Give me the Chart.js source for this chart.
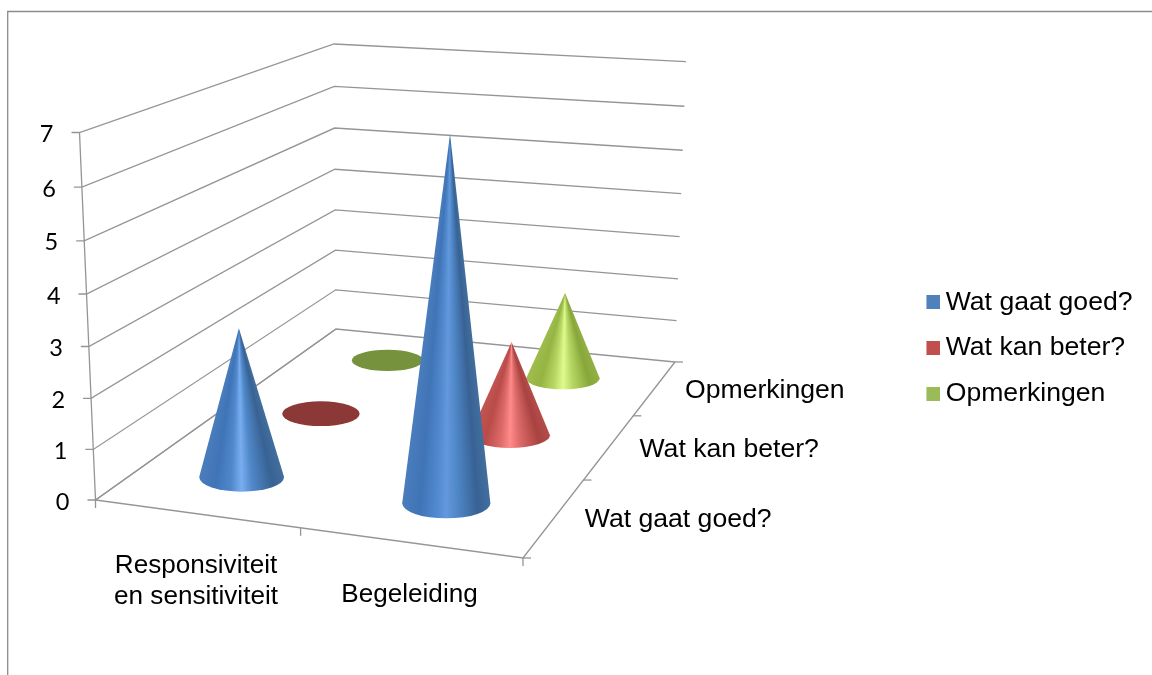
<!DOCTYPE html>
<html>
<head>
<meta charset="utf-8">
<title>Wat gaat goed? Wat kan beter?</title>
<script src="https://cdn.jsdelivr.net/npm/chart.js@4/dist/chart.umd.min.js"></script>
<style>
  html, body { margin: 0; padding: 0; background: #fff; }
  canvas { display: block; }
</style>
</head>
<body>
<canvas id="chart" width="1152" height="675"></canvas>
<script>
// Chart values
const categories = [['Responsiviteit', 'en sensitiviteit'], 'Begeleiding'];
const seriesNames = ['Wat gaat goed?', 'Wat kan beter?', 'Opmerkingen'];
const watGaatGoed = [3, 7];
const watKanBeter = [0, 2];
const opmerkingen = [0, 2];
const valueTicksMax = 7;

// Series colours: legend swatch, flat disc for zero values, cone shading (left to right)
const swatchColors = ['#4F81BD', '#C0504D', '#9BBB59'];
const discColors = ['#3A6296', '#8C3836', '#76923C'];
const coneShades = [
  [[0, '#4a7dbd'], [0.2, '#3f74b6'], [0.38, '#5088cd'], [0.5, '#78aef0'], [0.62, '#5088c9'], [0.85, '#386294'], [1, '#426f9e']],
  [[0, '#c25452'], [0.2, '#b94b49'], [0.38, '#dc6a68'], [0.5, '#ff8b8b'], [0.62, '#dc6a68'], [0.85, '#a84341'], [1, '#b44c4a']],
  [[0, '#9ebd4c'], [0.2, '#95b443'], [0.38, '#b8d865'], [0.5, '#dffb8e'], [0.62, '#b8d865'], [0.85, '#88a73b'], [1, '#93b044']]
];
// Softer highlight on cones taller than half of the value axis
const tallHighlights = ['#6398dc', '#f07a7a', '#cdea7c'];

// Corners of the 3D plot box on the canvas: front-left, front-right, back-right, back-left
const floorCorners = [[95.5, 500], [523, 558], [675, 362], [336, 329]];
const ceilingCorners = [[79.5, 132.5], [530, 162], [686, 61.7], [334, 44]];
const heightPerspective = -0.0434;

const GRID_COLOR = '#959595';
const FRAME_COLOR = '#8c8c8c';
const TEXT_FONT = 'Liberation Sans, Arial, sans-serif';
const TEXT_SIZE = 26.6;

// Unit square to quadrilateral projective map
function makeHomography(q) {
  const [p0, p1, p2, p3] = q;
  const dx1 = p1[0] - p2[0], dx2 = p3[0] - p2[0], sx = p0[0] - p1[0] + p2[0] - p3[0];
  const dy1 = p1[1] - p2[1], dy2 = p3[1] - p2[1], sy = p0[1] - p1[1] + p2[1] - p3[1];
  const det = dx1 * dy2 - dx2 * dy1;
  const g = (sx * dy2 - dx2 * sy) / det;
  const h = (dx1 * sy - sx * dy1) / det;
  const a = p1[0] - p0[0] + g * p1[0], b = p3[0] - p0[0] + h * p3[0], c = p0[0];
  const d = p1[1] - p0[1] + g * p1[1], e = p3[1] - p0[1] + h * p3[1], f = p0[1];
  return (u, v) => {
    const w = 1 + g * u + h * v;
    return { x: (a * u + b * v + c) / w, y: (d * u + e * v + f) / w, w };
  };
}
const floorMap = makeHomography(floorCorners);
const ceilingMap = makeHomography(ceilingCorners);

// u: across categories, v: depth, f: share of the value axis, all 0..1
function project(u, v, f) {
  const lo = floorMap(u, v), hi = ceilingMap(u, v);
  const t = f * (1 + heightPerspective) / (1 + heightPerspective * f);
  return { x: lo.x + (hi.x - lo.x) * t, y: lo.y + (hi.y - lo.y) * t, w: lo.w };
}

const shareX = (s, px) => (px - s.left) / s.width;
const shareY = (s, px) => (s.bottom - px) / s.height;

// Bar controller whose elements are painted as cones on the projected floor
class ConeController extends Chart.BarController {
  draw() {
    const { ctx, scales } = this.chart;
    const idx = this.index;
    const v = shareX(scales.depth, scales.depth.getPixelForValue(idx));
    const values = this.getDataset().data;
    values.forEach((value, i) => {
      const u = shareX(scales.x, scales.x.getPixelForValue(i));
      const f = shareY(scales.y, scales.y.getPixelForValue(value));
      const base = project(u, v, 0);
      const rx = 43.7 / base.w;
      const ry = rx * (0.354 - 0.066 * v);
      ctx.save();
      if (value === 0) {
        ctx.fillStyle = discColors[idx];
        ctx.beginPath();
        ctx.ellipse(base.x, base.y, rx, ry, 0, 0, Math.PI * 2);
        ctx.fill();
      } else {
        const apex = project(u, v, f);
        const aR = Math.atan2(base.y - apex.y, base.x + rx - apex.x);
        const aL = Math.atan2(base.y - apex.y, base.x - rx - apex.x);
        const margin = 0.02;
        const span = aL - aR;
        const grad = ctx.createConicGradient(aR - margin, apex.x, apex.y);
        const stops = coneShades[idx];
        grad.addColorStop(0, stops[stops.length - 1][1]);
        stops.slice().reverse().forEach(([s, color]) => {
          const shade = (s === 0.5 && f > 0.5) ? tallHighlights[idx] : color;
          grad.addColorStop((margin + (1 - s) * span) / (Math.PI * 2), shade);
        });
        grad.addColorStop((2 * margin + span) / (Math.PI * 2), stops[0][1]);
        grad.addColorStop(1, stops[stops.length - 1][1]);
        ctx.fillStyle = grad;
        ctx.beginPath();
        ctx.moveTo(apex.x, apex.y);
        ctx.lineTo(base.x + rx, base.y);
        ctx.ellipse(base.x, base.y, rx, ry, 0, 0, Math.PI);
        ctx.closePath();
        ctx.fill();
      }
      ctx.restore();
    });
  }
}
ConeController.id = 'cone';
ConeController.defaults = Chart.BarController.defaults;
ConeController.overrides = Chart.BarController.overrides;
Chart.register(ConeController);

// Places the library's tick labels along the edges of the projected box
const boxLabels = {
  id: 'boxLabels',
  beforeDraw(chart) {
    const { x, y, depth } = chart.scales;
    y.getLabelItems().forEach((item, i) => {
      const p = project(0, 0, shareY(y, y.getPixelForValue(y.ticks[i].value)));
      item.textOffset = 0;
      item.options.textAlign = 'right';
      item.options.textBaseline = 'middle';
      item.options.translation = [p.x - 26, p.y + 2];
    });
    x.getLabelItems().forEach((item, i) => {
      const p = project(shareX(x, x.getPixelForValue(i)), 0, 0);
      item.textOffset = 0;
      item.options.textAlign = 'center';
      item.options.textBaseline = 'top';
      item.options.translation = [p.x, p.y + 39];
    });
    depth.getLabelItems().forEach((item, i) => {
      const p = project(1, shareX(depth, depth.getPixelForValue(i)), 0);
      item.textOffset = 0;
      item.options.textAlign = 'left';
      item.options.textBaseline = 'middle';
      item.options.translation = [p.x + 30, p.y + 3];
    });
  }
};

// Outer frame, walls, floor and tick marks of the plot box
const boxFrame = {
  id: 'boxFrame',
  beforeDatasetsDraw(chart) {
    const { ctx, scales } = chart;
    const { y, depth } = scales;
    const line = (pts) => {
      ctx.beginPath();
      pts.forEach((p, i) => i ? ctx.lineTo(p.x, p.y) : ctx.moveTo(p.x, p.y));
      ctx.stroke();
    };
    ctx.save();
    ctx.strokeStyle = FRAME_COLOR;
    ctx.lineWidth = 1.3;
    line([{ x: 7.7, y: chart.height }, { x: 7.7, y: 11.5 }, { x: chart.width, y: 11.5 }]);

    ctx.strokeStyle = GRID_COLOR;
    ctx.lineWidth = 1.3;
    y.ticks.forEach(t => {
      const f = shareY(y, y.getPixelForValue(t.value));
      const fl = project(0, 0, f);
      line([{ x: fl.x - 8, y: fl.y }, fl, project(0, 1, f), project(1, 1, f)]);
    });
    line([project(0, 0, 0), project(0, 0, 1)]);
    line([project(0, 1, 0), project(0, 0, 0), project(1, 0, 0), project(1, 1, 0)]);

    // Ticks between categories, below the front edge
    for (let i = 0; i <= categories.length; i++) {
      const p = project(i / categories.length, 0, 0);
      line([p, { x: p.x, y: p.y + 8 }]);
    }
    // Ticks between series, right of the side edge
    for (let i = 0; i <= depth.ticks.length; i++) {
      const p = project(1, i / depth.ticks.length, 0);
      line([p, { x: p.x + 8, y: p.y }]);
    }
    ctx.restore();
  }
};

// Legend swatch with room on the left so the label sits close to the square
function makeSwatch(color) {
  const c = document.createElement('canvas');
  c.width = 23;
  c.height = 14;
  const g = c.getContext('2d');
  g.fillStyle = color;
  g.fillRect(9, 0, 14, 14);
  return c;
}
const swatches = swatchColors.map(makeSwatch);

const hiddenAxis = (extra) => Object.assign({
  grid: { display: false, drawTicks: false },
  border: { display: false }
}, extra);

new Chart(document.getElementById('chart'), {
  type: 'cone',
  data: {
    labels: categories,
    datasets: [
      { label: seriesNames[0], data: watGaatGoed, backgroundColor: swatchColors[0] },
      { label: seriesNames[1], data: watKanBeter, backgroundColor: swatchColors[1] },
      { label: seriesNames[2], data: opmerkingen, backgroundColor: swatchColors[2] }
    ]
  },
  options: {
    responsive: false,
    animation: false,
    devicePixelRatio: 1,
    layout: { padding: { top: 21, right: 9.5 } },
    scales: {
      x: hiddenAxis({
        type: 'category', position: 'bottom', offset: true,
        ticks: { mirror: true, autoSkip: false, maxRotation: 0, minRotation: 0, color: '#000',
                 font: { family: TEXT_FONT, size: 26.1 } }
      }),
      depth: hiddenAxis({
        type: 'category', axis: 'x', position: 'bottom', offset: true, labels: seriesNames,
        ticks: { mirror: true, autoSkip: false, maxRotation: 0, minRotation: 0, color: '#000',
                 font: { family: TEXT_FONT, size: TEXT_SIZE } }
      }),
      y: hiddenAxis({
        type: 'linear', min: 0, max: valueTicksMax,
        ticks: { mirror: true, stepSize: 1, color: '#000', font: { family: 'Lato', size: 23.5 } }
      })
    },
    plugins: {
      tooltip: { enabled: false },
      legend: {
        position: 'right',
        labels: {
          color: '#000',
          font: { family: TEXT_FONT, size: TEXT_SIZE },
          padding: 19,
          usePointStyle: true,
          pointStyleWidth: 7,
          generateLabels: (chart) => chart.data.datasets.map((d, i) => ({
            text: d.label,
            datasetIndex: i,
            pointStyle: swatches[i],
            fillStyle: swatchColors[i],
            strokeStyle: 'transparent',
            lineWidth: 0,
            hidden: false
          }))
        }
      }
    }
  },
  plugins: [boxLabels, boxFrame]
});
</script>
</body>
</html>
